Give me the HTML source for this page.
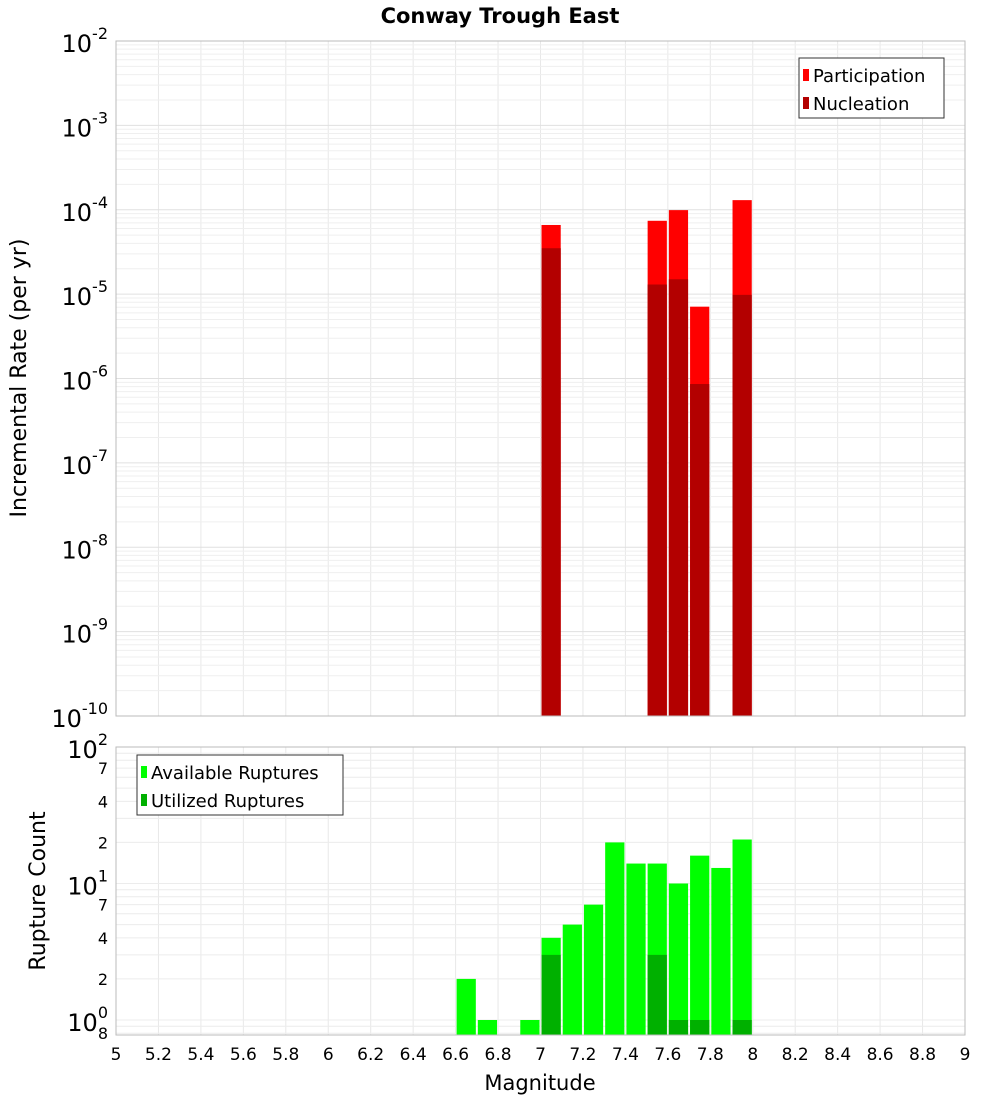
<!DOCTYPE html>
<html><head><meta charset="utf-8"><style>
body{margin:0;background:#fff;font-family:"Liberation Sans","DejaVu Sans",sans-serif}
svg text{font-family:"DejaVu Sans","Liberation Sans",sans-serif}
</style></head><body>
<svg id="c" width="1000" height="1100" xmlns="http://www.w3.org/2000/svg">
<text x="500" y="23" text-anchor="middle" font-size="21" font-weight="bold">Conway Trough East</text>
<g id="topg"></g>
<g id="botg"></g>
<text x="540" y="1090" text-anchor="middle" font-size="21">Magnitude</text>
<text transform="translate(26,378) rotate(-90)" text-anchor="middle" font-size="22">Incremental Rate (per yr)</text>
<text transform="translate(45,891) rotate(-90)" text-anchor="middle" font-size="22">Rupture Count</text>
</svg>
<script>
const mags=[7.05,7.55,7.65,7.75,7.95];
const participation=[6.6e-5,7.4e-5,9.9e-5,7.1e-6,1.3e-4];
const nucleation=[3.5e-5,1.3e-5,1.5e-5,8.6e-7,9.8e-6];
const cMags=[6.65,6.75,6.95,7.05,7.15,7.25,7.35,7.45,7.55,7.65,7.75,7.85,7.95];
const available=[2,1,1,4,5,7,20,14,14,10,16,13,21];
const utilized=[0,0,0,3,0,0,0,0,3,1,1,0,1];
const xTicks=["5","5.2","5.4","5.6","5.8","6","6.2","6.4","6.6","6.8","7","7.2","7.4","7.6","7.8","8","8.2","8.4","8.6","8.8","9"];
const NS='http://www.w3.org/2000/svg';
const L=116,R=965;
const X=m=>L+(m-5)/4*(R-L);
const T0=41,T1=716;const YT=v=>T0+(-2-Math.log10(v))/8*(T1-T0);
const B0=747,B1=1035;const YB=v=>B0+(2-Math.log10(v))*136.5;
function el(p,t,a){const e=document.createElementNS(NS,t);for(const k in a)e.setAttribute(k,a[k]);p.appendChild(e);return e;}
const topG=document.getElementById('topg'),botG=document.getElementById('botg');
const svgRoot=document.getElementById('c');
for(let i=0;i<xTicks.length;i++){const x=X(+xTicks[i]);
 let g=el(topG,'line',{x1:x,x2:x,y1:T0,y2:T1,stroke:'#e8e8e8'});
 
 
 g=el(botG,'line',{x1:x,x2:x,y1:B0,y2:B1,stroke:'#e8e8e8'});
 
 
 const t=el(svgRoot,'text',{x:x,y:1060,'text-anchor':'middle','font-size':17});t.textContent=xTicks[i];
 
 }
for(let d=-10;d<-2;d++)for(let k=1;k<10;k++){const y=YT(k*Math.pow(10,d));
 const g=el(topG,'line',{x1:L,x2:R,y1:y,y2:y,stroke:k==1?'#e0e0e0':'#efefef'});
 
 }
for(let d=-1;d<2;d++)for(let k=1;k<10;k++){const v=k*Math.pow(10,d);const y=YB(v);if(y>B1||y<B0)continue;
 const g=el(botG,'line',{x1:L,x2:R,y1:y,y2:y,stroke:'#ececec'});
 
 }
for(let d=-10;d<=-2;d++){const y=YT(Math.pow(10,d));
 const t=el(topG,'text',{x:108,y:y+11,'text-anchor':'end','font-size':24});t.innerHTML='10<tspan dy="-13" font-size="16">'+d+'</tspan>';
 
 }
[[100,'10','2'],[70,'7'],[40,'4'],[20,'2'],[10,'10','1'],[7,'7'],[4,'4'],[2,'2'],[1,'10','0'],[0.8,'8']].forEach(a=>{const y=YB(a[0]);
 const t=el(botG,'text',{x:108,y:a[2]?y+11:y+6,'text-anchor':'end','font-size':a[2]?24:16});
 t.innerHTML=a[2]?a[1]+'<tspan dy="-13" font-size="16">'+a[2]+'</tspan>':a[1];
 
 });
const bw=(X(5.1)-X(5))-2;
mags.forEach((m,i)=>{const x=X(m-0.05)+1;
 let r=el(topG,'rect',{x:x,y:YT(participation[i]),width:bw,height:T1-YT(participation[i]),fill:'#ff0000'});
 
 
 r=el(topG,'rect',{x:x,y:YT(nucleation[i]),width:bw,height:T1-YT(nucleation[i]),fill:'#b30000'});
 
 });
cMags.forEach((m,i)=>{const x=X(m-0.05)+1;
 let r=el(botG,'rect',{x:x,y:YB(available[i]),width:bw,height:B1-YB(available[i]),fill:'#00ff00'});
 
 
 if(utilized[i]>0){r=el(botG,'rect',{x:x,y:YB(utilized[i]),width:bw,height:B1-YB(utilized[i]),fill:'#00b000'});
 
 }});
let f=el(topG,'rect',{x:L,y:T0,width:R-L,height:T1-T0,fill:'none',stroke:'#bbb'});


f=el(botG,'rect',{x:L,y:B0,width:R-L,height:B1-B0,fill:'none',stroke:'#bbb'});


function legend(p,x,y,w,items){const g=el(p,'g',{});
 
 
 el(g,'rect',{x:x,y:y,width:w,height:60,fill:'#fff',stroke:'#333'});
 items.forEach((it,i)=>{const yy=y+18+i*28;const s=el(g,'rect',{x:x+4,y:yy-7,width:6,height:12,fill:it[1]});
  
  
  const t=el(g,'text',{x:x+14,y:yy+6,'font-size':18});t.textContent=it[0];
  
  });}
legend(topG,799,58,145,[['Participation','#ff0000'],['Nucleation','#b30000']]);
legend(botG,137,755,206,[['Available Ruptures','#00ff00'],['Utilized Ruptures','#00b000']]);
</script>
</body></html>
